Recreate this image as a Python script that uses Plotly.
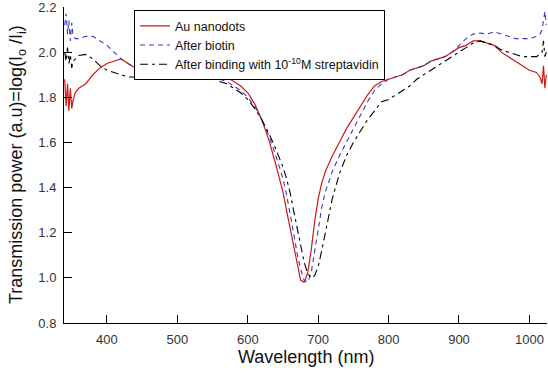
import plotly.graph_objects as go

wavelength = [340, 342, 344, 346, 348, 350, 352, 355, 360, 370, 380, 390, 400, 410, 420, 430,
              440, 450, 460, 470, 480, 490, 500, 510, 520, 530, 540, 550, 560, 570, 580, 590,
              600, 610, 620, 630, 640, 650, 655, 660, 665, 670, 675, 680, 685, 690, 695, 700,
              705, 710, 720, 730, 740, 750, 760, 770, 780, 790, 800, 810, 820, 830, 840, 850,
              860, 870, 880, 890, 900, 910, 920, 930, 940, 950, 960, 970, 980, 990, 1000, 1010,
              1015, 1018, 1020, 1022, 1024]

au_nanodots = [1.88, 1.76, 1.86, 1.74, 1.84, 1.75, 1.79, 1.82, 1.84, 1.86, 1.90, 1.93, 1.95, 1.96, 1.97, 1.95,
               1.93, 1.92, 1.92, 1.91, 1.92, 1.92, 1.91, 1.91, 1.92, 1.93, 1.94, 1.92, 1.90, 1.89, 1.87, 1.85,
               1.82, 1.77, 1.70, 1.61, 1.50, 1.38, 1.30, 1.22, 1.14, 1.06, 0.99, 0.98, 1.02, 1.12, 1.25, 1.35,
               1.42, 1.47, 1.54, 1.60, 1.66, 1.71, 1.76, 1.81, 1.85, 1.87, 1.88, 1.89, 1.90, 1.92, 1.93, 1.94,
               1.96, 1.97, 1.98, 2.00, 2.02, 2.03, 2.05, 2.05, 2.04, 2.03, 2.00, 1.98, 1.96, 1.94, 1.92, 1.91,
               1.89, 1.86, 1.94, 1.84, 1.90]

after_biotin = [2.12, 2.17, 2.08, 2.14, 2.05, 2.13, 2.07, 2.06, 2.06, 2.07, 2.07, 2.05, 2.03, 2.00, 1.97, 1.95,
                1.93, 1.91, 1.90, 1.90, 1.90, 1.91, 1.91, 1.91, 1.91, 1.92, 1.92, 1.90, 1.88, 1.87, 1.85, 1.83,
                1.80, 1.76, 1.70, 1.63, 1.54, 1.44, 1.37, 1.29, 1.20, 1.11, 1.04, 0.99, 0.98, 1.02, 1.12, 1.22,
                1.31, 1.38, 1.47, 1.54, 1.60, 1.66, 1.72, 1.78, 1.83, 1.86, 1.88, 1.89, 1.90, 1.92, 1.93, 1.94,
                1.96, 1.97, 1.98, 2.00, 2.03, 2.06, 2.08, 2.085, 2.08, 2.09, 2.08, 2.07, 2.06, 2.06, 2.06, 2.07,
                2.08, 2.10, 2.15, 2.18, 2.12]

after_streptavidin = [2.00, 1.96, 2.02, 1.95, 1.99, 1.93, 1.96, 1.97, 1.985, 1.99, 1.97, 1.94, 1.92, 1.91, 1.90, 1.89,
                      1.89, 1.89, 1.88, 1.88, 1.88, 1.89, 1.89, 1.89, 1.90, 1.91, 1.91, 1.90, 1.87, 1.86, 1.84, 1.82,
                      1.79, 1.75, 1.70, 1.64, 1.57, 1.49, 1.44, 1.38, 1.30, 1.22, 1.14, 1.07, 1.02, 1.00, 1.01, 1.05,
                      1.12, 1.20, 1.35, 1.46, 1.54, 1.60, 1.65, 1.70, 1.74, 1.78, 1.79, 1.81, 1.83, 1.85, 1.88, 1.90,
                      1.92, 1.94, 1.96, 1.98, 2.00, 2.02, 2.04, 2.05, 2.04, 2.03, 2.01, 2.00, 1.99, 1.98, 1.98, 1.98,
                      1.99, 2.00, 2.05, 1.98, 2.00]

x_ticks = [400, 500, 600, 700, 800, 900, 1000]
y_ticks = [0.8, 1.0, 1.2, 1.4, 1.6, 1.8, 2.0, 2.2]
y_tick_labels = ["0.8", "1.0", "1.2", "1.4", "1.6", "1.8", "2.0", "2.2"]

fig = go.Figure()
fig.add_trace(go.Scatter(x=wavelength, y=au_nanodots, mode="lines", name="Au nanodots",
                         line=dict(color="#d01818", width=1.2)))
fig.add_trace(go.Scatter(x=wavelength, y=after_biotin, mode="lines", name="After biotin",
                         line=dict(color="#3a3ac0", width=1.1, dash="5px,4px")))
fig.add_trace(go.Scatter(x=wavelength, y=after_streptavidin, mode="lines",
                         name="After binding with 10<sup>-10</sup>M streptavidin",
                         line=dict(color="#000000", width=1.1, dash="8px,4px,3px,4px")))

font_family = "Liberation Sans, Arial, sans-serif"
fig.update_layout(
    width=548, height=373,
    margin=dict(l=64, r=1, t=7, b=50),
    paper_bgcolor="white", plot_bgcolor="white",
    font=dict(family=font_family, color="#222222", size=12),
    showlegend=True,
    legend=dict(x=0.145, y=0.99, xanchor="left", yanchor="top",
                bordercolor="black", borderwidth=1, bgcolor="white",
                font=dict(size=12.5, color="#111111"), tracegroupgap=0,
                itemwidth=30),
    xaxis=dict(range=[339, 1025], tickvals=x_ticks, ticks="inside", ticklen=8,
               tickcolor="black", showline=True, linecolor="black", linewidth=1,
               showgrid=False, zeroline=False, ticklabelstandoff=4, automargin=False,
               tickfont=dict(size=13, color="#333333")),
    yaxis=dict(range=[0.8, 2.2], tickvals=y_ticks, ticktext=y_tick_labels, ticks="inside", ticklen=8,
               tickcolor="black", showline=True, linecolor="black", linewidth=1,
               showgrid=False, zeroline=False, ticklabelstandoff=4, automargin=False,
               ticklabeloverflow="allow",
               tickfont=dict(size=13, color="#333333")),
    annotations=[
        dict(text="Wavelength (nm)", xref="paper", yref="paper", x=0.5, y=0,
             xanchor="center", yanchor="middle", yshift=-34, showarrow=False,
             font=dict(size=18, color="#111111")),
        dict(text="Transmission power (a.u)=log(I<sub>o</sub> /I<sub>i</sub>)", xref="paper", yref="paper",
             x=0, y=0.5, xanchor="center", yanchor="middle", xshift=-47, textangle=-90,
             showarrow=False, font=dict(size=18, color="#111111")),
    ],
)

fig.write_html("out.html", config={"displayModeBar": False},
               post_script="document.body.style.margin='0';document.body.style.overflow='hidden';")
